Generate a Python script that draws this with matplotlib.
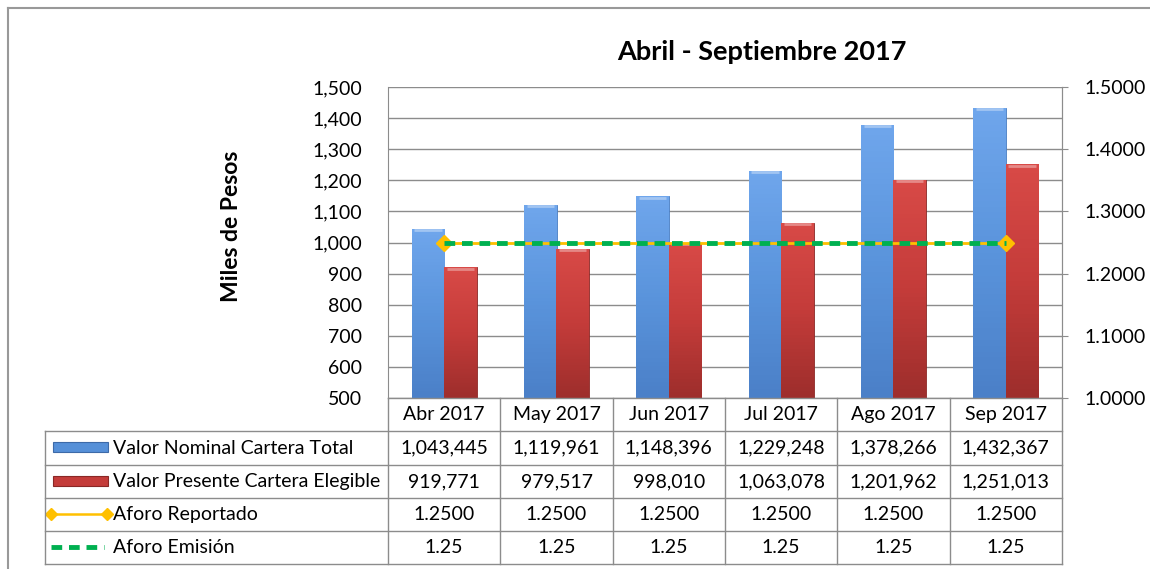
import numpy as np
import matplotlib
matplotlib.use("Agg")
import matplotlib.pyplot as plt
from matplotlib.lines import Line2D
from matplotlib.colors import LinearSegmentedColormap

plt.rcParams['font.family'] = ['Lato', 'DejaVu Sans']

meses = ['Abr 2017', 'May 2017', 'Jun 2017', 'Jul 2017', 'Ago 2017', 'Sep 2017']
nominal = [1043445, 1119961, 1148396, 1229248, 1378266, 1432367]
presente = [919771, 979517, 998010, 1063078, 1201962, 1251013]
aforo_rep = [1.25, 1.25, 1.25, 1.25, 1.25, 1.25]
aforo_emi = [1.25, 1.25, 1.25, 1.25, 1.25, 1.25]
series = ['Valor Nominal Cartera Total', 'Valor Presente Cartera Elegible',
          'Aforo Reportado', 'Aforo Emisión']

W, H = 1150, 569
fig = plt.figure(figsize=(W / 100, H / 100), dpi=100)
fs = 14


def fx(x):
    return x / W


def fy(y):
    return 1 - y / H


grid_c = '#8c8c8c'
blue_c = '#5690d8'
red_c = '#c43c3a'
yel_c = '#ffc000'
green_c = '#00b050'

L, R, T, B = 388, 1062, 87, 398
ax = fig.add_axes([fx(L), fy(B), fx(R) - fx(L), fy(T) - fy(B)])
ax2 = ax.twinx()

x = np.arange(len(meses))
bw = 0.29
nom_k = np.array(nominal) / 1000
pre_k = np.array(presente) / 1000
b1 = ax.bar(x - bw / 2, nom_k - 500, bw, bottom=500, color=blue_c, edgecolor='#4a7fc4', lw=0.6, zorder=3)
b2 = ax.bar(x + bw / 2, pre_k - 500, bw, bottom=500, color=red_c, edgecolor='#8a2826', lw=0.6, zorder=3)

# sombreado tipo bisel
cm_blue = LinearSegmentedColormap.from_list('b', ['#6fa6ec', '#5a94dc', '#4b80c8'])
cm_red = LinearSegmentedColormap.from_list('r', ['#d84a47', '#c43c3a', '#9e2e2c'])
for bars, cm in ((b1, cm_blue), (b2, cm_red)):
    for p in bars:
        x0, y0 = p.get_x(), p.get_y()
        w, h = p.get_width(), p.get_height()
        grad = np.linspace(0, 1, 50).reshape(-1, 1) * np.ones((1, 10))
        im = ax.imshow(grad, cmap=cm, extent=[x0, x0 + w, y0, y0 + h], origin='upper',
                       aspect='auto', zorder=3.5)
        im.set_clip_path(p)
        ax.plot([x0 + w * 0.08, x0 + w * 0.92], [y0 + h - 4, y0 + h - 4],
                color='white', alpha=0.35, lw=2, zorder=3.6, solid_capstyle='butt')

ax.set_xlim(-0.5, len(meses) - 0.5)
ax.set_ylim(500, 1500)
ax.set_yticks(np.arange(500, 1501, 100))
ax.set_yticklabels([f'{v:,}' for v in range(500, 1501, 100)], fontsize=fs)
ax.yaxis.grid(True, color=grid_c, lw=1, zorder=0)
ax.set_axisbelow(True)
ax.set_xticks([])
ax.tick_params(axis='y', length=0, pad=18.5)
for s in ['top', 'bottom']:
    ax.spines[s].set_visible(False)
ax.spines['left'].set_color(grid_c)
ax.spines['right'].set_color(grid_c)

ax2.set_ylim(1.0, 1.5)
ax2.set_yticks(np.arange(1.0, 1.501, 0.1))
ax2.set_yticklabels([f'{v:.4f}' for v in np.arange(1.0, 1.501, 0.1)], fontsize=fs)
ax2.tick_params(axis='y', length=4.5, color=grid_c, pad=12)
for s in ['top', 'bottom', 'left']:
    ax2.spines[s].set_visible(False)
ax2.spines['right'].set_color(grid_c)
ax2.plot(x, aforo_rep, color=yel_c, lw=2, marker='D', ms=8, markevery=[0, len(x) - 1], zorder=5)
ax2.plot(x, aforo_emi, color=green_c, lw=3.5, ls=(0, (2.2, 1.4)), zorder=6)

fig.text(fx(762), fy(52), 'Abril - Septiembre 2017', ha='center', va='center',
         fontsize=19.5, fontweight='bold')
fig.text(fx(232), fy(226), 'Miles de Pesos', ha='center', va='center', rotation=90,
         fontsize=16.5, fontweight='bold')

# marco exterior
fig.add_artist(Line2D([fx(8), fx(8)], [fy(8), 0], color='#999999', lw=1.5))
fig.add_artist(Line2D([fx(8), 1], [fy(8), fy(8)], color='#999999', lw=1.5))

# tabla de datos
TL = 45
rows_y = [398, 431, 465, 498, 531, 564]
cw = (R - L) / len(meses)
tc = '#8c8c8c'
fig.add_artist(Line2D([fx(L), fx(R)], [fy(398), fy(398)], color=tc, lw=1))
for yy in rows_y[1:]:
    fig.add_artist(Line2D([fx(TL), fx(R)], [fy(yy), fy(yy)], color=tc, lw=1))
fig.add_artist(Line2D([fx(TL), fx(TL)], [fy(431), fy(564)], color=tc, lw=1))
for k in range(len(meses) + 1):
    xx = L + k * cw
    fig.add_artist(Line2D([fx(xx), fx(xx)], [fy(398), fy(564)], color=tc, lw=1))

fila_vals = [[f'{v:,}' for v in nominal], [f'{v:,}' for v in presente],
             [f'{v:.4f}' for v in aforo_rep], [f'{v:.2f}' for v in aforo_emi]]
for k, m in enumerate(meses):
    cx = L + (k + 0.5) * cw
    fig.text(fx(cx), fy((rows_y[0] + rows_y[1]) / 2), m, ha='center', va='center', fontsize=fs)
    for r in range(4):
        cy = (rows_y[r + 1] + rows_y[r + 2]) / 2
        fig.text(fx(cx), fy(cy), fila_vals[r][k], ha='center', va='center', fontsize=fs)

for r, name in enumerate(series):
    cy = (rows_y[r + 1] + rows_y[r + 2]) / 2
    fig.text(fx(113), fy(cy), name, ha='left', va='center', fontsize=fs)

# claves de leyenda
kax = fig.add_axes([0, 0, 1, 1], facecolor='none')
kax.set_xlim(0, W)
kax.set_ylim(H, 0)
kax.axis('off')
kax.add_patch(plt.Rectangle((53, 442), 55, 10, facecolor=blue_c, edgecolor='#3d6aa8', lw=0.8))
kax.add_patch(plt.Rectangle((53, 476), 55, 10, facecolor=red_c, edgecolor='#8a2826', lw=0.8))
kax.plot([51, 107], [514, 514], color=yel_c, lw=1.8, marker='D', ms=6)
kax.plot([51, 104], [547, 547], color=green_c, lw=3.5, ls=(0, (2.2, 1.4)))

fig.savefig('out.png', dpi=100)
